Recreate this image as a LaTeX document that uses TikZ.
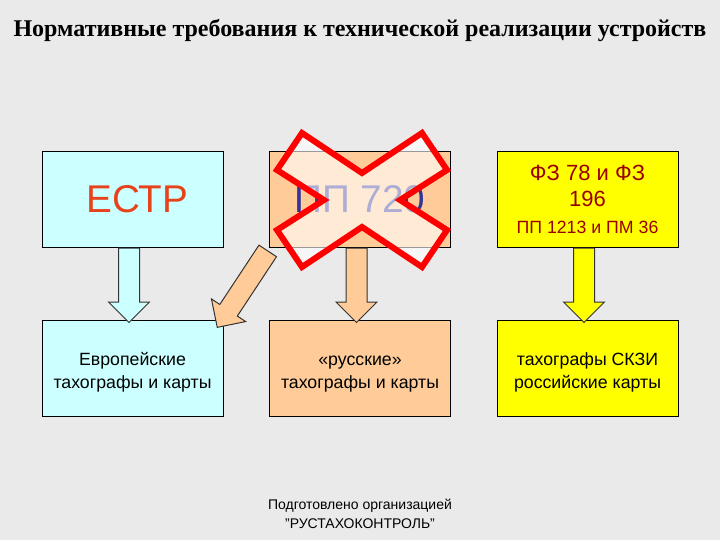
\documentclass[tikz,border=0pt]{standalone}
\usepackage{fontspec}
\setmainfont{Liberation Sans}
\newfontfamily\titlefont{Liberation Serif}
\usetikzlibrary{calc,shapes.arrows}

\definecolor{bgcol}{RGB}{234,234,234}
\definecolor{cyanbox}{RGB}{204,255,255}
\definecolor{orangebox}{RGB}{255,204,153}
\definecolor{yellowbox}{RGB}{255,255,0}
\definecolor{ectpred}{RGB}{232,66,28}
\definecolor{ppblue}{RGB}{51,51,153}
\definecolor{fzred}{RGB}{153,0,0}
\definecolor{arrowline}{RGB}{51,51,51}

\tikzset{every picture/.style={line width=0.75pt}}
\tikzset{
  box/.style={draw=black, line width=0.75pt, minimum width=135.75pt, minimum height=72pt,
    inner sep=0pt, align=center},
  lowtext/.style={font=\fontsize{13.3}{17.25}\selectfont, text depth=0pt},
  barrow/.style={single arrow, draw=arrowline, line width=0.75pt, inner sep=0pt,
    inner ysep=7.5pt, single arrow head extend=7.5pt, single arrow head indent=0pt},
  xmark/.style={draw=red, line width=4.5pt, fill=white, fill opacity=0.6, line join=miter}
}

% block arrow from #1 to #2 filled with #3
\newcommand{\blockarrow}[3]{%
  \path let \p1=($(#2)-(#1)$), \n1={atan2(\y1,\x1)}, \n2={veclen(\x1,\y1)} in
    node[barrow, fill=#3, rotate={-\n1}, minimum height=\n2, anchor=tail] at (#1) {};
}

\begin{document}
\begin{tikzpicture}[x=0.75pt,y=0.75pt,yscale=-1,xscale=1]
	% background
	\fill[bgcol] (0,0) rectangle (720,540);
	\useasboundingbox (0,0) rectangle (720,540);

	% title
	\node[font=\titlefont\bfseries\fontsize{18}{22}\selectfont] (title) at (360,30)
		{Нормативные требования к технической реализации устройств};

	% upper row
	\node[box, fill=cyanbox, text=ectpred, font=\fontsize{29}{34}\selectfont] (ectp) at (132.5,199) {\hspace*{7pt}ЕСТР};
	\node[box, fill=orangebox, text=ppblue, font=\fontsize{29}{34}\selectfont] (pp) at (360,199) {ПП 720};
	\node[box, fill=yellowbox, text=fzred, font=\fontsize{16.5}{20}\selectfont, text depth=0pt] (fz) at (587.5,199)
		{ФЗ 78 и ФЗ\\ 196\\ {\fontsize{13.3}{15}\selectfont ПП 1213 и ПМ 36}};

	% lower row
	\node[box, lowtext, fill=cyanbox] (eu) at (132.5,368.5)
		{\strut Европейские\\ \strut тахографы и карты};
	\node[box, lowtext, fill=orangebox] (ru) at (360,368.5)
		{\strut «русские»\\ \strut тахографы и карты};
	\node[box, lowtext, fill=yellowbox] (sk) at (587.5,368.5)
		{\strut тахографы СКЗИ\\ \strut российские карты};

	% arrows
	\blockarrow{$(ectp.south)+(-3.5,0)$}{$(eu.north)+(-3.5,2)$}{cyanbox}
	\blockarrow{$(pp.south)+(-3.5,0)$}{$(ru.north)+(-3.5,2)$}{orangebox}
	\blockarrow{$(fz.south)+(-3.5,0)$}{$(sk.north)+(-3.5,2)$}{yellowbox}
	\blockarrow{$(pp.south west)+(-1,3)$}{$(eu.north east)+(-6,7)$}{orangebox}

	% cross over ПП 720
	\draw[xmark] (277,170) -- (302,133) -- (362,173) -- (422,133) -- (447,170) -- (400,200)
		-- (447,230) -- (422,267) -- (362,227) -- (302,267) -- (277,230) -- (324,200) -- cycle;

	% footer
	\node[font=\fontsize{10.5}{14.25}\selectfont, align=center] (foot) at (360,514)
		{Подготовлено организацией\\ \char"22РУСТАХОКОНТРОЛЬ\char"22};
\end{tikzpicture}
\end{document}
